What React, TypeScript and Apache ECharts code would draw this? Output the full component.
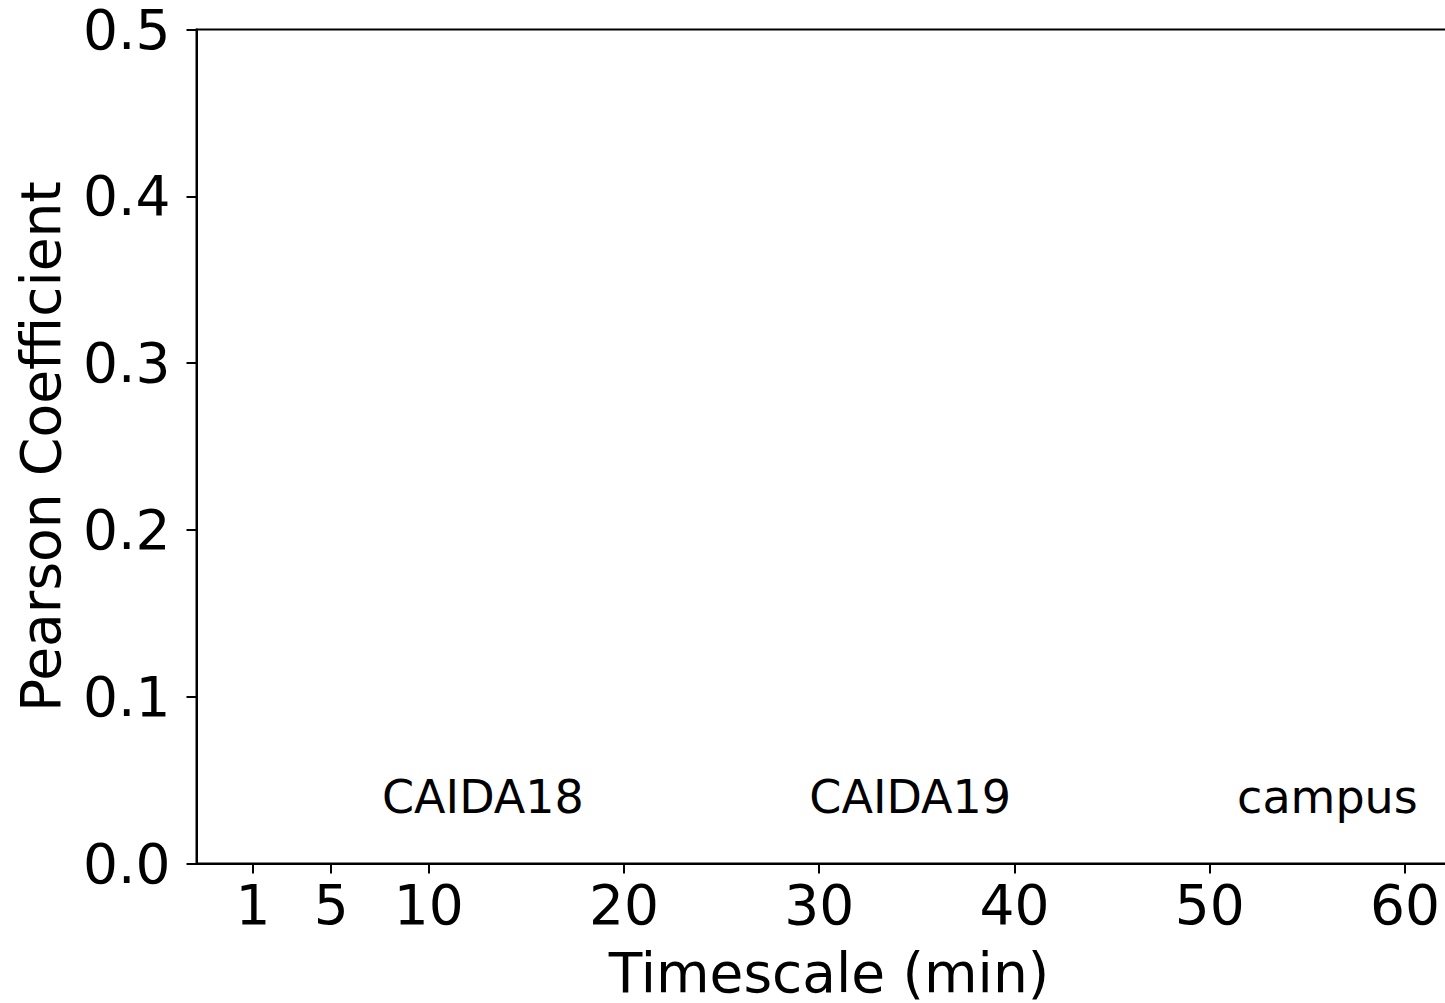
import React, { useEffect, useRef } from "react";
import * as echarts from "echarts";

const xTickValues = [1, 5, 10, 20, 30, 40, 50, 60];
const yTickValues = [0, 0.1, 0.2, 0.3, 0.4, 0.5];
const annotationText = ["CAIDA18", "CAIDA19", "campus"];
const annotationX = [12.77, 34.66, 56.03];
const annotationY = [0.03, 0.03, 0.03];

const FONT = "DejaVu Sans";
const CHART_W = 1462;
const CHART_H = 1003;

export default function App() {
  const ref = useRef<HTMLDivElement>(null);
  useEffect(() => {
    if (!ref.current) return;
    const chart = echarts.init(ref.current, undefined, { renderer: "svg" });
    chart.setOption({
      animation: false,
      backgroundColor: "#ffffff",
      grid: {
        left: 196.5,
        top: 29.5,
        right: CHART_W - 1461.5,
        bottom: CHART_H - 863.5,
        containLabel: false,
        outerBoundsMode: "none",
        show: true,
        borderColor: "#000000",
        borderWidth: 2,
        backgroundColor: "transparent",
      },
      xAxis: {
        type: "value",
        min: -1.9,
        max: 62.9,
        name: "Timescale (min)",
        nameLocation: "middle",
        nameGap: 82,
        nameTextStyle: { fontFamily: FONT, fontSize: 55, color: "#000000" },
        axisLine: { show: true, onZero: false, lineStyle: { color: "#000000", width: 2 } },
        axisTick: {
          show: true,
          length: 10,
          inside: false,
          customValues: xTickValues,
          lineStyle: { color: "#000000", width: 2 },
        },
        axisLabel: {
          show: true,
          customValues: xTickValues,
          fontFamily: FONT,
          fontSize: 55,
          color: "#000000",
          margin: 14,
        },
        splitLine: { show: false },
      },
      yAxis: {
        type: "value",
        min: 0,
        max: 0.5,
        interval: 0.1,
        name: "Pearson Coefficient",
        nameLocation: "middle",
        nameGap: 128,
        nameTextStyle: { fontFamily: FONT, fontSize: 55, color: "#000000" },
        axisLine: { show: true, onZero: false, lineStyle: { color: "#000000", width: 2 } },
        axisTick: {
          show: true,
          length: 10,
          inside: false,
          customValues: yTickValues,
          lineStyle: { color: "#000000", width: 2 },
        },
        axisLabel: {
          show: true,
          customValues: yTickValues,
          formatter: (v: number) => v.toFixed(1),
          fontFamily: FONT,
          fontSize: 55,
          color: "#000000",
          margin: 26,
        },
        splitLine: { show: false },
      },
      series: [
        {
          type: "scatter",
          name: "labels",
          symbolSize: 0,
          silent: true,
          itemStyle: { opacity: 1 },
          data: annotationText.map((t, i) => ({ name: t, value: [annotationX[i], annotationY[i]] })),
          label: {
            show: true,
            position: "inside",
            offset: [0, -16],
            opacity: 1,
            formatter: (p: any) => p.name,
            fontFamily: FONT,
            fontSize: 46,
            color: "#000000",
          },
        },
      ],
    });
    return () => chart.dispose();
  }, []);
  return (
    <div
      style={{
        position: "absolute",
        left: 0,
        top: 0,
        width: 1445,
        height: 1003,
        overflow: "hidden",
        background: "#fff",
      }}
    >
      <div ref={ref} style={{ width: CHART_W, height: CHART_H }} />
    </div>
  );
}
